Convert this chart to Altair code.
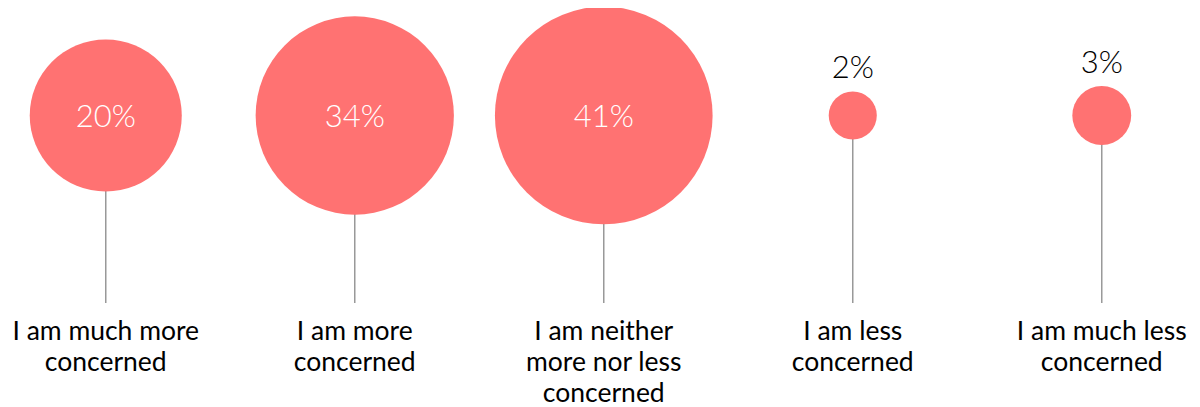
import altair as alt
import pandas as pd

categories = [
    "I am much more concerned",
    "I am more concerned",
    "I am neither more nor less concerned",
    "I am less concerned",
    "I am much less concerned",
]
label_lines = [
    "I am much more\nconcerned",
    "I am more\nconcerned",
    "I am neither\nmore nor less\nconcerned",
    "I am less\nconcerned",
    "I am much less\nconcerned",
]
values = [20, 34, 41, 2, 3]

df = pd.DataFrame({"cat": categories, "label": label_lines, "value": values})

FONT = "Lato"
CENTER_Y = 107.5

base = alt.Chart(df).encode(
    x=alt.X(
        "cat:N",
        sort=categories,
        scale=alt.Scale(type="point", padding=0.3775, align=0.52),
        axis=None,
    )
).transform_calculate(pct="datum.value + '%'")

stems = base.mark_rule(color="#999999", strokeWidth=1.5).encode(
    y=alt.value(CENTER_Y), y2=alt.value(295)
)

# Vega circle: radius = sqrt(size) / 2  ->  size = 4 * 17^2 * value
circles = base.mark_circle(color="#FF7272", opacity=1).encode(
    y=alt.value(CENTER_Y),
    size=alt.Size(
        "value:Q",
        scale=alt.Scale(type="linear", domain=[0, 50], range=[0, 57800]),
        legend=None,
    ),
)

inside = (
    base.transform_filter("datum.value >= 10")
    .mark_text(color="white", fontSize=31, font=FONT, fontWeight=300,
               baseline="middle", dy=2)
    .encode(y=alt.value(CENTER_Y), text="pct:N")
)

outside = (
    base.transform_filter("datum.value < 10")
    .transform_calculate(off="-(17 * sqrt(datum.value) + 13.5)")
    .mark_text(color="black", fontSize=31, font=FONT, fontWeight=300,
               baseline="alphabetic")
    .encode(
        y=alt.value(CENTER_Y),
        yOffset=alt.YOffset("off:Q", scale=None),
        text="pct:N",
    )
)

cat_labels = base.mark_text(
    color="black", fontSize=26.5, font=FONT, lineBreak="\n", lineHeight=31,
    baseline="alphabetic",
).encode(y=alt.value(332), text="label:N")

chart = (
    alt.layer(stems, circles, inside, outside, cat_labels)
    .properties(width=1184, height=400, padding=0,
                autosize=alt.AutoSizeParams(type="none"))
    .configure_view(stroke=None)
)

chart.save("out.html", embed_options={"renderer": "svg", "actions": False})
